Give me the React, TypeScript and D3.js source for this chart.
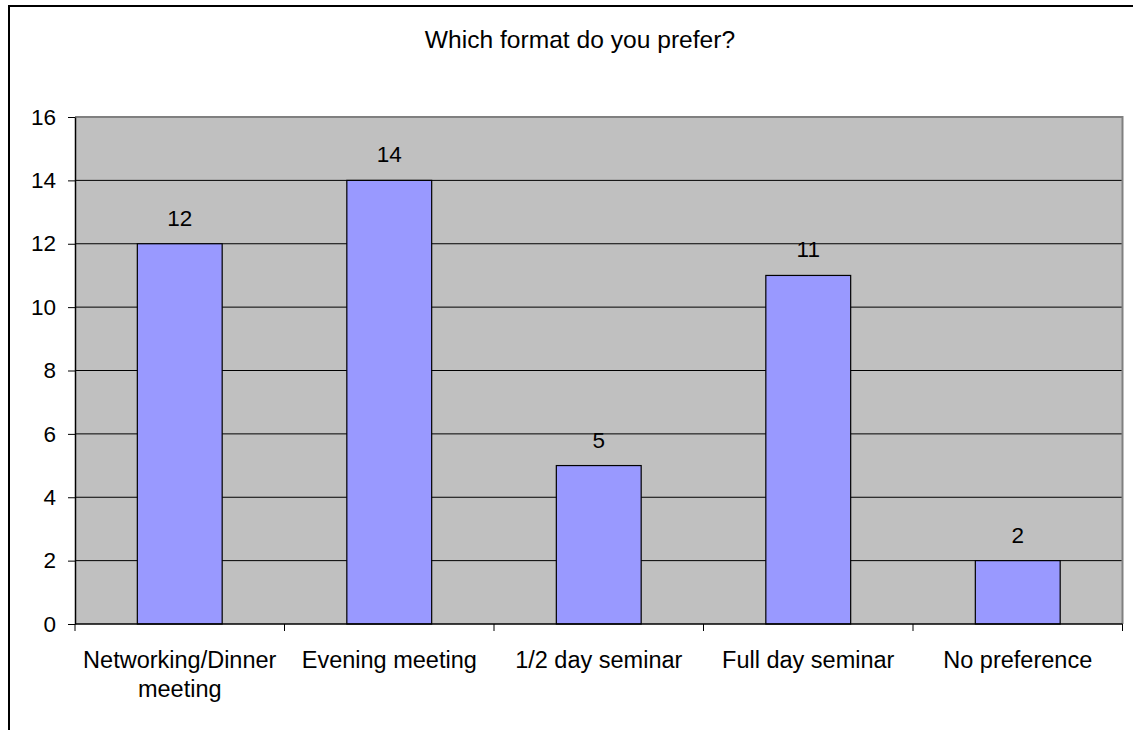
import React, { useRef, useEffect } from "react";
import * as d3 from "d3";

const title = "Which format do you prefer?";
const categories = [
  "Networking/Dinner meeting",
  "Evening meeting",
  "1/2 day seminar",
  "Full day seminar",
  "No preference",
];
// label lines as the chart wraps them
const categoryLines = [
  ["Networking/Dinner", "meeting"],
  ["Evening meeting"],
  ["1/2 day seminar"],
  ["Full day seminar"],
  ["No preference"],
];
const values = [12, 14, 5, 11, 2];
const yTicks = [0, 2, 4, 6, 8, 10, 12, 14, 16];

const FONT = "'Liberation Sans', Arial, sans-serif";

function drawChart(svgElement: SVGSVGElement, totalWidth: number, totalHeight: number) {
  const plot = { left: 75, top: 117, right: 1122.5, bottom: 624 };

  const svg = d3
    .select(svgElement)
    .attr("width", totalWidth)
    .attr("height", totalHeight)
    .style("font-family", FONT);

  svg.selectAll("*").remove();

  svg
    .append("rect")
    .attr("width", totalWidth)
    .attr("height", totalHeight)
    .attr("fill", "#ffffff");

  // chart area border (runs past the right and bottom of the picture)
  svg
    .append("rect")
    .attr("x", 9)
    .attr("y", 6)
    .attr("width", 1300)
    .attr("height", 900)
    .attr("fill", "none")
    .attr("stroke", "#000")
    .attr("stroke-width", 2);

  svg
    .append("text")
    .attr("x", 580)
    .attr("y", 48)
    .attr("text-anchor", "middle")
    .style("font-size", "24.6px")
    .text(title);

  const x = d3
    .scaleBand<string>()
    .domain(categories)
    .range([plot.left, plot.right])
    .padding(0);

  const y = d3.scaleLinear().domain([0, 16]).range([plot.bottom, plot.top]);

  // plot background
  svg
    .append("rect")
    .attr("x", plot.left)
    .attr("y", plot.top)
    .attr("width", plot.right - plot.left)
    .attr("height", plot.bottom - plot.top)
    .attr("fill", "#c0c0c0");

  // gridlines
  svg
    .append("g")
    .selectAll("line")
    .data(yTicks.filter((t) => t > 0 && t < 16))
    .enter()
    .append("line")
    .attr("x1", plot.left)
    .attr("x2", plot.right)
    .attr("y1", (d) => y(d))
    .attr("y2", (d) => y(d))
    .attr("stroke", "#000")
    .attr("stroke-width", 1);

  // plot border top / right
  svg
    .append("path")
    .attr("d", `M${plot.left},${y(16)}H${plot.right}V${plot.bottom}`)
    .attr("fill", "none")
    .attr("stroke", "#808080")
    .attr("stroke-width", 2);

  const barWidth = x.step() * 0.405;

  svg
    .append("g")
    .selectAll("rect")
    .data(values)
    .enter()
    .append("rect")
    .attr("x", (d, i) => (x(categories[i]) as number) + (x.step() - barWidth) / 2)
    .attr("y", (d) => y(d))
    .attr("width", barWidth)
    .attr("height", (d) => y(0) - y(d))
    .attr("fill", "#9999ff")
    .attr("stroke", "#000")
    .attr("stroke-width", 1.2);

  // value labels
  svg
    .append("g")
    .selectAll("text")
    .data(values)
    .enter()
    .append("text")
    .attr("x", (d, i) => (x(categories[i]) as number) + x.step() / 2)
    .attr("y", (d) => y(d) - 18)
    .attr("text-anchor", "middle")
    .style("font-size", "22.5px")
    .text((d) => d);

  // y axis
  const yAxis = svg
    .append("g")
    .attr("transform", `translate(${plot.left},0)`)
    .call(
      d3
        .axisLeft(y)
        .tickValues(yTicks)
        .tickSize(7)
        .tickSizeOuter(0)
        .tickPadding(12)
    );
  yAxis.select(".domain").attr("stroke", "#000").attr("stroke-width", 1.5);
  yAxis.selectAll(".tick line").attr("stroke", "#000");
  yAxis
    .selectAll(".tick text")
    .style("font-size", "22.5px")
    .style("font-family", FONT)
    .attr("fill", "#000");

  // x axis
  svg
    .append("line")
    .attr("x1", plot.left)
    .attr("x2", plot.right)
    .attr("y1", y(0))
    .attr("y2", y(0))
    .attr("stroke", "#000")
    .attr("stroke-width", 1.5);

  const boundaries = categories.map((c) => x(c) as number).concat([plot.right]);
  svg
    .append("g")
    .selectAll("line")
    .data(boundaries)
    .enter()
    .append("line")
    .attr("x1", (d) => d)
    .attr("x2", (d) => d)
    .attr("y1", y(0))
    .attr("y2", y(0) + 7)
    .attr("stroke", "#000");

  const labels = svg
    .append("g")
    .selectAll("text")
    .data(categoryLines)
    .enter()
    .append("text")
    .attr("text-anchor", "middle")
    .style("font-size", "23.5px")
    .attr("transform", (d, i) => `translate(${(x(categories[i]) as number) + x.step() / 2},668)`);

  labels
    .selectAll("tspan")
    .data((d) => d)
    .enter()
    .append("tspan")
    .attr("x", 0)
    .attr("y", (d, j) => j * 28.5)
    .text((d) => d);
}

const App: React.FunctionComponent = function () {
  const svgRef = useRef<SVGSVGElement>(null);

  useEffect(() => {
    if (svgRef.current == null) {
      return;
    }
    drawChart(svgRef.current, 1133, 730);
  }, []);

  return (
    <div style={{ position: "fixed", left: 0, top: 0 }}>
      <svg ref={svgRef} style={{ display: "block" }}></svg>
    </div>
  );
};

export default App;
